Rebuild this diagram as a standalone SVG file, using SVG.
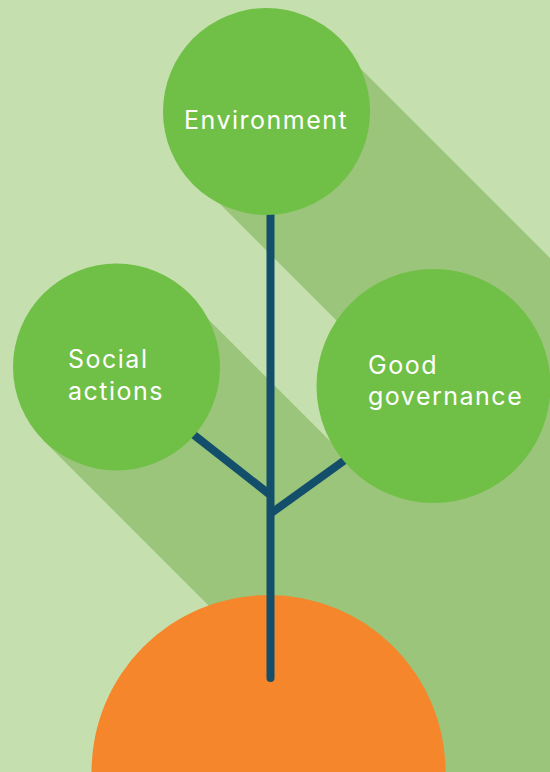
<svg xmlns="http://www.w3.org/2000/svg" width="550" height="772" viewBox="0 0 550 772">
  <style>
    .shadow { fill: #9ac57a; }
    .leaf { fill: #70bf46; }
    .label { fill: #ffffff; font-family: Inter, "Open Sans", "Liberation Sans", sans-serif; font-size: 25px; letter-spacing: 1.5px; }
    .stem { stroke: #134f6b; stroke-width: 8; fill: none; }
  </style>

  <!-- backdrop -->
  <rect width="550" height="772" fill="#c5e0ae"/>

  <!-- long 45-degree shadows cast by the circles -->
  <g id="shadows">
    <polygon class="shadow" points="335,43 935,643 797,781 197,181"/>
    <polygon class="shadow" points="186,297 786,897 643,1040 43,440"/>
    <polygon class="shadow" points="516,303 1116,903 951,1068 351,468"/>
  </g>

  <!-- root -->
  <g id="root">
    <circle cx="268.5" cy="772" r="177" fill="#f5862b"/>
  </g>

  <!-- stem and branches -->
  <g id="connectors">
    <line class="stem" x1="270.5" y1="200" x2="270.5" y2="678" stroke-linecap="round"/>
    <line class="stem" x1="180" y1="424" x2="269" y2="494"/>
    <line class="stem" x1="370" y1="442" x2="272" y2="512.5"/>
  </g>

  <g id="environment">
    <circle class="leaf" cx="266.5" cy="111.5" r="103.5"/>
    <text class="label" x="184" y="129">Environment</text>
  </g>

  <g id="social-actions">
    <circle class="leaf" cx="116.5" cy="367" r="103.5"/>
    <text class="label" x="68" y="368">Social</text>
    <text class="label" x="68" y="400">actions</text>
  </g>

  <g id="good-governance">
    <circle class="leaf" cx="433.5" cy="386" r="117"/>
    <text class="label" x="368" y="374">Good</text>
    <text class="label" x="368" y="405">governance</text>
  </g>
</svg>
